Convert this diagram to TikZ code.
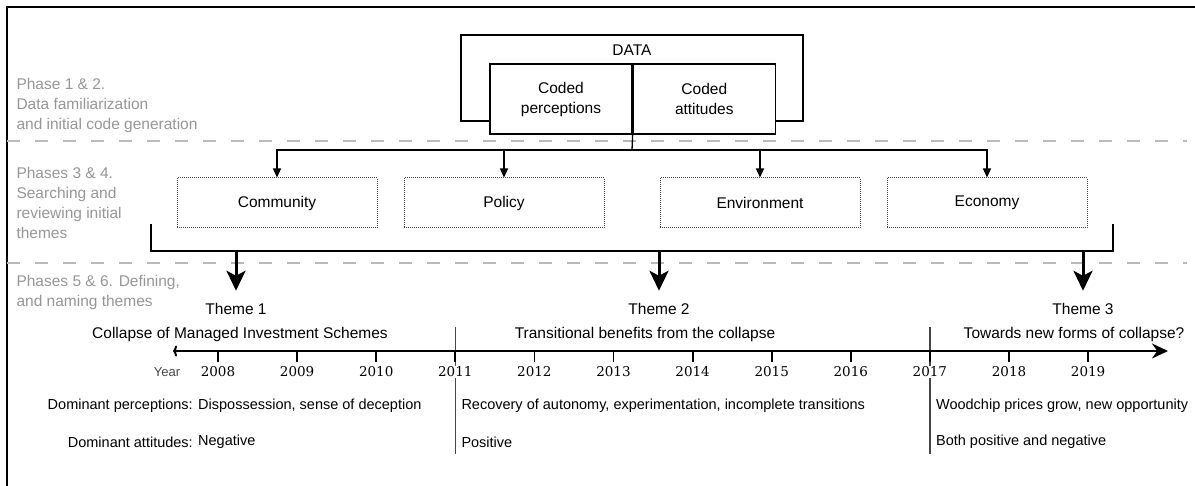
\documentclass[tikz,border=0pt]{standalone}
\usepackage{fontspec}
\setmainfont{Liberation Sans}
\newfontfamily\yearfont{DejaVu Serif}
\usepackage{tikz}
\usetikzlibrary{
    arrows.meta,
    positioning,
    backgrounds
}
\definecolor{PhaseGray}{RGB}{150,150,150}
\definecolor{RuleGray}{RGB}{185,185,185}
\definecolor{DotGray}{RGB}{70,70,70}
\definecolor{YearGray}{RGB}{70,70,70}
\tikzset{
  themebox/.style  = {draw=DotGray, densely dotted, line width=1pt, minimum width=200pt,
                      minimum height=50pt, font=\fontsize{15.5}{18}\selectfont},
  coded/.style     = {draw, fill=white, line width=1.3pt, minimum width=142pt,
                      minimum height=70pt, align=center,
                      font=\fontsize{15.5}{20}\selectfont},
  phase/.style     = {anchor=west, align=left, text=PhaseGray,
                      font=\fontsize{15.5}{20}\selectfont},
  arr/.style       = {-{Triangle[length=9pt,width=8pt]}, line width=1.3pt},
  bigarr/.style    = {-{Stealth[length=20pt,width=19pt,inset=5pt]}, line width=3pt},
  phaserule/.style = {RuleGray, line width=2pt, dash pattern=on 13pt off 15pt}
}

\begin{document}
\begin{tikzpicture}[
    x=1pt, y=-1pt,
    title/.style={font=\fontsize{15.5}{18}\selectfont},
    yr/.style={font=\yearfont\fontsize{13.5}{16}\selectfont, fill=white, inner sep=1pt},
    row/.style={font=\fontsize{14.5}{17}\selectfont, inner sep=2pt},
    sep/.style={YearGray, line width=1.3pt}
]
\useasboundingbox (0,0) rectangle (1195,486);
\draw[line width=2pt] (1195,7) -- (7,7) -- (7,486);
\draw[phaserule] (7,141) -- (1187,141);
\draw[phaserule] (7,263) -- (1187,263);

\node[phase] (ph12) at (13,105) {Phase 1 \& 2.\\Data familiarization\\and initial code generation};
\node[phase] (ph34) at (13,203) {Phases 3 \& 4.\\Searching and\\reviewing initial\\themes};
\node[phase] (ph56) at (13,292) {Phases 5 \& 6. Defining,\\and naming themes};

% data and codes
\node[draw, line width=1.3pt, minimum width=342pt, minimum height=86pt] (data) at (632,78) {};
\node[title, below=7pt of data.north] (datalbl) {DATA};
\node[coded] (cperc) at (561,99) {Coded\\perceptions};
\node[coded, right=0pt of cperc] (catt) {Coded\\attitudes};
\coordinate (split) at (632,150);
\draw[line width=1.3pt] (cperc.south east) -- (split);

\node[themebox] (comm) at (277,203) {Community};
\node[themebox] (pol)  at (504,203) {Policy};
\node[themebox] (env)  at (760,203) {Environment};
\node[themebox] (eco)  at (987,203) {Economy};
\foreach \b in {comm,pol,env,eco}
    \draw[arr] (split) -| (\b.north);

\coordinate (brL) at (151,224);
\coordinate (brR) at (1113,224);
\coordinate (brBase) at (0,251);
\draw[line width=1.3pt] (brL) |- (brR |- brBase) -- (brR);

\node[title] (theme1) at (236,309) {Theme 1};
\node[title] (theme2) at (659,309) {Theme 2};
\node[title] (theme3) at (1083,309) {Theme 3};
\foreach \t in {theme1,theme2,theme3}
    \draw[bigarr, shorten >=9pt] (\t |- brBase) -- (\t.north);

\node[title] (sub1) at (240,334) {Collapse of Managed Investment Schemes};
\node[title] (sub2) at (645,334) {Transitional benefits from the collapse};
\node[title] (sub3) at (1074,334) {Towards new forms of collapse?};

% timeline
\coordinate (tlL) at (173,351);
\coordinate (tlR) at (1168,351);
\draw[line width=2pt, {To[length=4pt,width=11pt]}-{Stealth[length=16pt,width=15pt]}] (tlL) -- (tlR);
\foreach \yr [count=\i from 0] in {2008,...,2019} {
    \node[yr] (y\yr) at (218+79.1*\i,372) {\yr};
    \draw[line width=1.8pt] (y\yr |- tlL) -- ++(0,11);
}
\node[font=\fontsize{13}{16}\selectfont, text=YearGray, left=16pt of y2008] (yearlbl) {Year};

\coordinate (sepTop) at (0,327);
\coordinate (sepBot) at (0,454);
\begin{scope}[on background layer]
\draw[sep] (y2011 |- sepTop) -- (y2011 |- sepBot);
\draw[sep] (y2017 |- sepTop) -- (y2017 |- sepBot);
\end{scope}

\node[row, anchor=east] (domperc) at (195,406) {Dominant perceptions:};
\node[row, anchor=east] (domatt)  at (195,442) {Dominant attitudes:};
\node[row, right=1pt of domperc] (perc1) {Dispossession, sense of deception};
\node[row, right=1pt of domatt]  (att1)  {Negative};
\node[row, anchor=west] (perc2) at ([xshift=4pt]y2011 |- domperc) {Recovery of autonomy, experimentation, incomplete transitions};
\node[row, anchor=west] (att2)  at ([xshift=4pt]y2011 |- domatt) {Positive};
\node[row, anchor=west] (perc3) at ([xshift=4pt]y2017 |- domperc) {Woodchip prices grow, new opportunity};
\node[row, anchor=west] (att3)  at ([xshift=4pt]y2017 |- domatt) {Both positive and negative};
\end{tikzpicture}
\end{document}
